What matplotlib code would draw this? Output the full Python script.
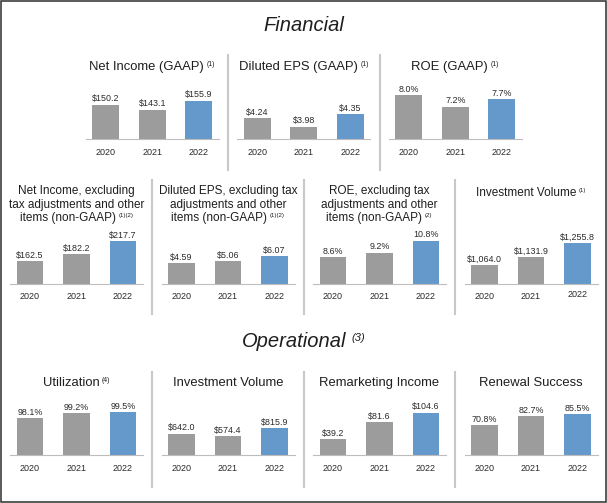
import matplotlib
matplotlib.use('Agg')
import matplotlib.pyplot as plt
from matplotlib.lines import Line2D
from matplotlib.patches import Rectangle
from matplotlib.transforms import ScaledTranslation

plt.rcParams['font.family'] = ['Liberation Sans', 'DejaVu Sans']

# ---------------- data ----------------
years = ['2020', '2021', '2022']

net_income_gaap = [150.2, 143.1, 155.9]
eps_gaap = [4.24, 3.98, 4.35]
roe_gaap = [8.0, 7.2, 7.7]
net_income_adj = [162.5, 182.2, 217.7]
eps_adj = [4.59, 5.06, 6.07]
roe_adj = [8.6, 9.2, 10.8]
inv_volume_fin = [1064.0, 1131.9, 1255.8]
utilization = [98.1, 99.2, 99.5]
inv_volume_op = [642.0, 574.4, 815.9]
remarketing_income = [39.2, 81.6, 104.6]
renewal_success = [70.8, 82.7, 85.5]

section_titles = ['Financial', 'Operational']


def money1(v):
    return f'${v:,.1f}'


def money2(v):
    return f'${v:.2f}'


def pct(v):
    return f'{v:.1f}%'


# row, column slot, title lines, superscript, values, formatter, y-range
panels = [
    (1, 0, ['Net Income (GAAP)'], '(1)', net_income_gaap, money1, (99.6, 180.5)),
    (1, 1, ['Diluted EPS (GAAP)'], '(1)', eps_gaap, money2, (3.61, 5.252)),
    (1, 2, ['ROE (GAAP)'], '(1)', roe_gaap, pct, (4.95, 8.743)),
    (2, 0, ['Net Income, excluding', 'tax adjustments and other', 'items (non-GAAP)'], '(1)(2)',
     net_income_adj, money1, (101.9, 251.4)),
    (2, 1, ['Diluted EPS, excluding tax', 'adjustments and other', 'items (non-GAAP)'], '(1)(2)',
     eps_adj, money2, (0.28, 11.91)),
    (2, 2, ['ROE, excluding tax', 'adjustments and other', 'items (non-GAAP)'], '(2)',
     roe_adj, pct, (5.03, 12.46)),
    (2, 3, ['Investment Volume'], '(1)', inv_volume_fin, money1, (901.0, 1380.5)),
    (3, 0, ['Utilization'], '(4)', utilization, pct, (89.9, 102.1)),
    (3, 1, ['Investment Volume'], None, inv_volume_op, money1, (0.0, 1646.7)),
    (3, 2, ['Remarketing Income'], None, remarketing_income, money1, (0.0, 135.8)),
    (3, 3, ['Renewal Success'], None, renewal_success, pct, (30.7, 104.2)),
]

# ---------------- style / layout ----------------
GRAY = '#9c9c9c'
BLUE = '#6598cb'
TXT = '#1e1e1e'
VAL = '#2a2a2a'
DIV = '#c8c8c8'
AXL = '#bdbdbd'
bar_colors = [GRAY, GRAY, BLUE]

W, H = 607, 503
fig = plt.figure(figsize=(W / 100, H / 100), dpi=100)
fig.patch.set_facecolor('white')
ov = fig.add_axes([0, 0, 1, 1], zorder=0)
ov.set_xlim(0, W)
ov.set_ylim(H, 0)
ov.axis('off')
renderer = fig.canvas.get_renderer()

pitch = 151.5
row_centers = {1: [152.25 + k * pitch for k in range(3)],
               2: [76.5 + k * pitch for k in range(4)],
               3: [76.5 + k * pitch for k in range(4)]}
row_base = {1: 139.2, 2: 283.6, 3: 455.3}
row_title_y = {1: [66.7], 2: [191.3, 204.7, 218.0], 3: [383.0]}
row_title_size = {1: 9.4, 2: 8.5, 3: 9.4}
row_sup_size = {1: 5.0, 2: 4.4, 3: 5.0}

ax_half = 66.5
bar_pitch = 46.5
ax_h = 55.0


def draw_title(cx, cy, text, sup=None, size=9.4, supsize=5.0, style='normal',
               gap=2.5, supdy=-2.5, color=TXT):
    t = ov.text(cx, cy, text, fontsize=size, fontstyle=style, ha='left',
                va='center', color=color)
    w1 = t.get_window_extent(renderer).width
    if sup is None:
        t.set_x(cx - w1 / 2)
        return
    s = ov.text(cx, cy + supdy, sup, fontsize=supsize, fontstyle=style,
                ha='left', va='center', color=color)
    w2 = s.get_window_extent(renderer).width
    x0 = cx - (w1 + gap + w2) / 2
    t.set_x(x0)
    s.set_x(x0 + w1 + gap)


# section titles
draw_title(303.5, 25.0, section_titles[0], size=14.5, style='italic')
draw_title(303.5, 341.7, section_titles[1], sup='(3)', size=14.5, supsize=8.0,
           style='italic', gap=5.0, supdy=-4.0)

for row, slot, tlines, sup, vals, fmt, ylim in panels:
    cx = row_centers[row][slot]
    base = row_base[row]
    # title
    ys = row_title_y[row]
    if len(tlines) == 1 and row == 2:
        ys = [193.3]
    for i, line in enumerate(tlines):
        last = (i == len(tlines) - 1)
        draw_title(cx, ys[i], line, sup=sup if last else None,
                   size=row_title_size[row], supsize=row_sup_size[row])
    # bar axes
    left = cx - ax_half
    ax = fig.add_axes([left / W, 1 - base / H, 2 * ax_half / W, ax_h / H], zorder=2)
    ax.patch.set_alpha(0)
    x = list(range(len(vals)))
    ax.bar(x, vals, width=0.574, color=bar_colors, zorder=2)
    ax.set_xlim(1 - ax_half / bar_pitch, 1 + ax_half / bar_pitch)
    ax.set_ylim(*ylim)
    for sp in ['top', 'left', 'right']:
        ax.spines[sp].set_visible(False)
    ax.spines['bottom'].set_color(AXL)
    ax.spines['bottom'].set_linewidth(0.8)
    ax.set_yticks([])
    ax.set_xticks(x)
    ax.set_xticklabels(years, fontsize=6.5, color=VAL)
    ax.tick_params(axis='x', length=0, pad=6.3)
    if row == 2 and slot == 3:
        lab = ax.get_xticklabels()[2]
        lab.set_transform(lab.get_transform() +
                          ScaledTranslation(0, 2.5 / 100, fig.dpi_scale_trans))
    for xi, v in zip(x, vals):
        ax.annotate(fmt(v), xy=(xi, v), xytext=(0, 4.3), textcoords='offset points',
                    ha='center', va='center', fontsize=6.4, color=VAL,
                    annotation_clip=False)

# dividers
for xd in [228.0, 379.5]:
    ov.add_line(Line2D([xd, xd], [55, 170], color=DIV, lw=1.5))
for xd in [152.25, 303.75, 455.25]:
    ov.add_line(Line2D([xd, xd], [180, 314], color=DIV, lw=1.5))
    ov.add_line(Line2D([xd, xd], [372, 487], color=DIV, lw=1.5))

# outer frame
ov.add_patch(Rectangle((0.75, 0.75), W - 1.5, H - 1.5, fill=False,
                       edgecolor='#2e2e2e', lw=1.1))

fig.savefig('out.png', dpi=100, facecolor='white')
